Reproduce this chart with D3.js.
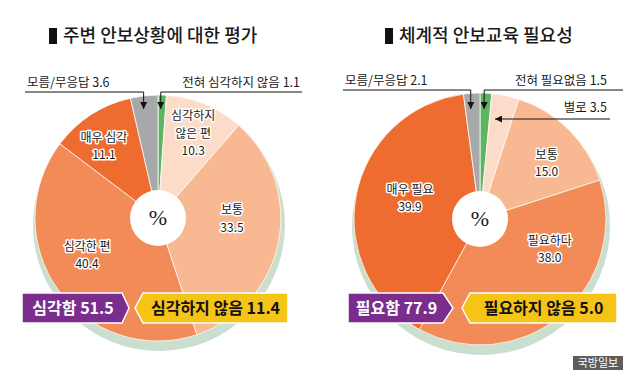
<!DOCTYPE html>
<html><head><meta charset="utf-8">
<script src="https://cdn.jsdelivr.net/npm/d3@7"></script>
<style>body{margin:0;background:#fff}svg{display:block}</style>
</head><body><svg id="c" width="635" height="378"></svg>
<script>
// ---- data ----
const leftTitle = "주변 안보상황에 대한 평가";
const leftCategories = ["전혀 심각하지 않음","심각하지 않은 편","보통","심각한 편","매우 심각","모름/무응답"];
const leftValues = [1.1, 10.3, 33.5, 40.4, 11.1, 3.6];
const leftBadges = ["심각함 51.5", "심각하지 않음 11.4"];

const rightTitle = "체계적 안보교육 필요성";
const rightCategories = ["전혀 필요없음","별로","보통","필요하다","매우 필요","모름/무응답"];
const rightValues = [1.5, 3.5, 15.0, 38.0, 39.9, 2.1];
const rightBadges = ["필요함 77.9", "필요하지 않음 5.0"];

const sliceColors = ["#5db562","#fcdcc9","#f7b892","#f38b59","#ef6c30","#a7a8aa"];
const source = "국방일보";

// ---- layout ----
const FONT = "'Noto Sans CJK KR','Noto Sans',sans-serif";
const svg = d3.select("#c");

const charts = [
  { title: leftTitle, cats: leftCategories, vals: leftValues, badges: leftBadges,
    cx: 158, cy: 218, r: 123, titleX: 49,
    inside: {1:{r:92,da:0},2:{r:74,da:-11},3:{r:80,da:8},4:{r:90,da:-4}},
    badge: {px0:22, px1:122, ptip:129, ytip:135, yx0:143, yx1:288},
    notes: [
      {i:5, side:"left", textX:27, baseY:87, lineY:92, lineX0:25, tipY:109},
      {i:0, side:"right", textX:300, baseY:87, lineY:92, lineX1:302, tipY:109}
    ]},
  { title: rightTitle, cats: rightCategories, vals: rightValues, badges: rightBadges,
    cx: 480, cy: 219, r: 126, titleX: 385,
    inside: {2:{r:87,da:5},3:{r:76,da:-27},4:{r:73,da:6}},
    badge: {px0:348, px1:443, ptip:453, ytip:462, yx0:470, yx1:617},
    notes: [
      {i:5, side:"left", textX:345, baseY:85, lineY:90, lineX0:343, tipY:109},
      {i:0, side:"right", textX:607, baseY:85, lineY:90, lineX1:623, tipY:109},
      {i:1, side:"horiz", textX:607, baseY:112, lineY:119, lineX1:610}
    ]}
];

// arrowhead marker
svg.append("defs").append("marker")
  .attr("id","ah").attr("viewBox","0 0 10 10").attr("refX",10).attr("refY",5)
  .attr("markerWidth",7).attr("markerHeight",7).attr("orient","auto-start-reverse")
  .attr("markerUnits","userSpaceOnUse")
  .append("path").attr("d","M0,0L10,5L0,10Z").attr("fill","#111");

charts.forEach(c => {
  const g = svg.append("g");
  // title
  g.append("rect").attr("x", c.titleX).attr("y", 28).attr("width", 8).attr("height", 16).attr("fill","#111");
  g.append("text").attr("x", c.titleX + 14).attr("y", 42).attr("font-family", FONT)
    .attr("font-size", 18).attr("font-weight", 500).attr("fill","#1a1a1a").text(c.title);

  // shadow
  g.append("circle").attr("cx", c.cx + 1).attr("cy", c.cy + 7).attr("r", c.r + 3).attr("fill", "#cadfcd");

  const pie = d3.pie().sort(null).value(d => d)(c.vals);
  const arc = d3.arc().innerRadius(0).outerRadius(c.r);
  const pg = g.append("g").attr("transform", `translate(${c.cx},${c.cy})`);
  pg.selectAll("path").data(pie).join("path")
    .attr("d", arc).attr("fill", (d,i) => sliceColors[i])
    .attr("stroke", "#fff").attr("stroke-opacity", 0.75).attr("stroke-width", 1);
  pg.append("circle").attr("r", 28).attr("fill", "#fff");
  pg.append("text").attr("y", 7).attr("text-anchor","middle").attr("font-family","'Liberation Serif','DejaVu Serif',serif")
    .attr("font-size", 22).attr("fill","#222").text("%");

  // inside labels (one text element per line)
  pie.forEach((d,i) => {
    const L = c.inside[i]; if (!L) return;
    const a = (d.startAngle + d.endAngle)/2 + L.da*Math.PI/180;
    const x = c.cx + L.r*Math.sin(a), y = c.cy - L.r*Math.cos(a);
    const name = c.cats[i];
    const lines = name.length > 6 ? [name.slice(0, name.indexOf(" ")), name.slice(name.indexOf(" ")+1)] : [name];
    lines.push(d3.format(".1f")(c.vals[i]));
    const n = lines.length, lh = 17.6;
    lines.forEach((s,k) => g.append("text").attr("x", x).attr("y", y - (n-1)*lh/2 + k*lh + 4.5)
      .attr("text-anchor","middle").attr("font-family", FONT)
      .attr("font-size", 12).attr("fill","#1a1a1a")
      .attr("stroke","#fff").attr("stroke-width",3).attr("stroke-linejoin","round")
      .attr("paint-order","stroke").text(s));
  });

  // annotations
  c.notes.forEach(nt => {
    const d = pie[nt.i];
    const label = c.cats[nt.i] + " " + d3.format(".1f")(c.vals[nt.i]);
    const mid = (d.startAngle + d.endAngle)/2;
    if (nt.side === "horiz") {
      const dy = c.cy - nt.lineY;
      const tipX = c.cx + dy*Math.tan(d.startAngle + (d.endAngle-d.startAngle)*0.25);
      g.append("text").attr("x", nt.textX).attr("y", nt.baseY).attr("text-anchor","end")
        .attr("font-family", FONT).attr("font-size", 12.5).attr("fill","#1a1a1a").text(label);
      g.append("line").attr("x1", nt.lineX1).attr("y1", nt.lineY).attr("x2", tipX).attr("y2", nt.lineY)
        .attr("stroke","#111").attr("stroke-width",1).attr("marker-end","url(#ah)");
      return;
    }
    const ax = c.cx + (c.cy - nt.tipY) * Math.tan(mid) - (nt.side === "left" ? 2 : 1);
    g.append("text").attr("x", nt.textX).attr("y", nt.baseY)
      .attr("text-anchor", nt.side === "left" ? "start" : "end")
      .attr("font-family", FONT).attr("font-size", 12.5).attr("fill","#1a1a1a").text(label);
    const pts = nt.side === "left"
      ? [[nt.lineX0, nt.lineY],[ax, nt.lineY],[ax, nt.tipY]]
      : [[nt.lineX1, nt.lineY],[ax, nt.lineY],[ax, nt.tipY]];
    g.append("path").attr("d", d3.line()(pts)).attr("fill","none")
      .attr("stroke","#111").attr("stroke-width",1).attr("marker-end","url(#ah)");
  });

  // badges
  const b = c.badge, y0 = 293, y1 = 323, ym = (y0+y1)/2;
  g.append("path").attr("d", `M${b.px0},${y0}H${b.px1}L${b.ptip},${ym}L${b.px1},${y1}H${b.px0}Z`)
    .attr("fill","#7b2d8e").attr("stroke","#fff").attr("stroke-width",1.5);
  g.append("text").attr("x", (b.px0+b.px1)/2 + 1).attr("y", ym + 6).attr("text-anchor","middle")
    .attr("font-family", FONT).attr("font-size", 16).attr("font-weight", 700).attr("fill","#fff").text(c.badges[0]);
  g.append("path").attr("d", `M${b.ytip},${ym}L${b.yx0},${y0}H${b.yx1}V${y1}H${b.yx0}Z`)
    .attr("fill","#f6c417").attr("stroke","#fff").attr("stroke-width",1.5);
  g.append("text").attr("x", (b.yx0+b.yx1)/2).attr("y", ym + 6).attr("text-anchor","middle")
    .attr("font-family", FONT).attr("font-size", 16).attr("font-weight", 700).attr("fill","#111").text(c.badges[1]);
});

// source tag
svg.append("rect").attr("x", 573).attr("y", 356).attr("width", 50).attr("height", 14).attr("fill","#5d5d5d");
svg.append("text").attr("x", 598).attr("y", 367).attr("text-anchor","middle").attr("font-family", FONT)
  .attr("font-size", 11).attr("fill","#fff").text(source);
</script>
</body></html>
